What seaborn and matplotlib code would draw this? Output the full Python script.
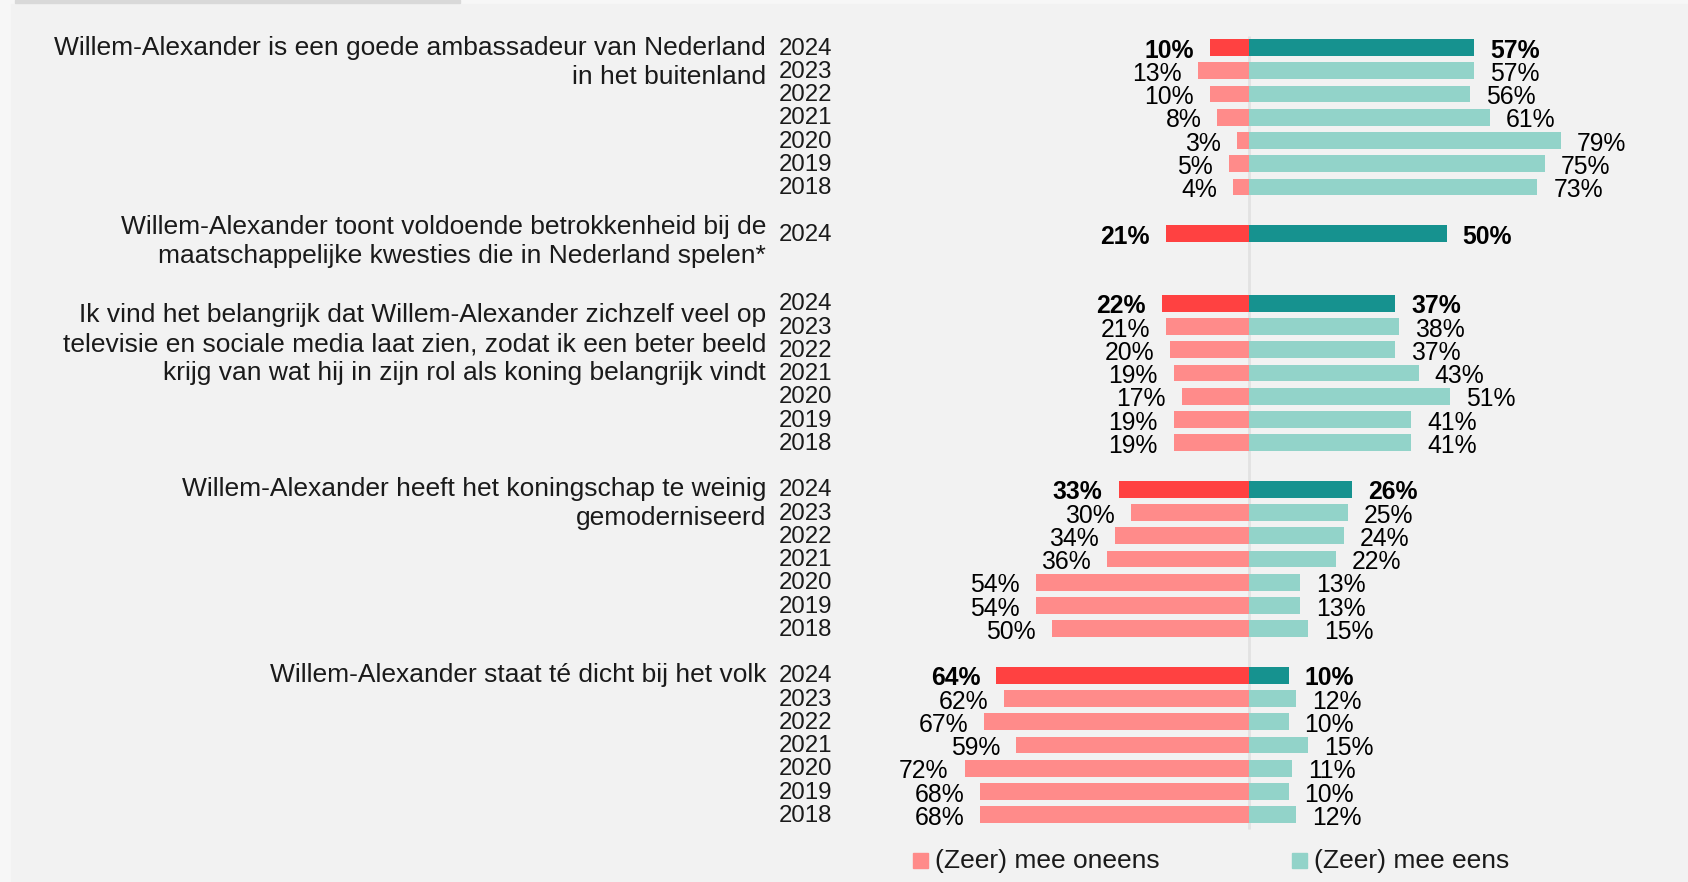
import numpy as np
import pandas as pd
import seaborn as sns
import matplotlib.pyplot as plt
from matplotlib.patches import Rectangle

# data
questions = [
    ["Willem-Alexander is een goede ambassadeur van Nederland", "in het buitenland"],
    ["Willem-Alexander toont voldoende betrokkenheid bij de", "maatschappelijke kwesties die in Nederland spelen*"],
    ["Ik vind het belangrijk dat Willem-Alexander zichzelf veel op",
     "televisie en sociale media laat zien, zodat ik een beter beeld",
     "krijg van wat hij in zijn rol als koning belangrijk vindt"],
    ["Willem-Alexander heeft het koningschap te weinig", "gemoderniseerd"],
    ["Willem-Alexander staat té dicht bij het volk"],
]
years_all = [2024, 2023, 2022, 2021, 2020, 2019, 2018]
years = [years_all, [2024], years_all, years_all, years_all]
oneens = [[10, 13, 10, 8, 3, 5, 4],
          [21],
          [22, 21, 20, 19, 17, 19, 19],
          [33, 30, 34, 36, 54, 54, 50],
          [64, 62, 67, 59, 72, 68, 68]]
eens = [[57, 57, 56, 61, 79, 75, 73],
        [50],
        [37, 38, 37, 43, 51, 41, 41],
        [26, 25, 24, 22, 13, 13, 15],
        [10, 12, 10, 15, 11, 10, 12]]
legend_labels = ["(Zeer) mee oneens", "(Zeer) mee eens"]

colors = {"neg24": "#ff4141", "neg": "#ff8b8a", "pos24": "#16928f", "pos": "#92d3c9"}
bg = "#f2f2f2"
txt = "#1a1a1a"

# layout in pixels
W, H = 1688, 882
CX, PXPCT = 1249, 3.95      # zero line, pixels per percent
Y0, RS = 47.5, 23.25        # first row centre, row spacing
gaps = [1, 2, 1, 1, 0]
q_shift = [7, 0.5, 19, 7, 7]  # baseline of first question line below its first row (px)

recs = []
r = 0
for g in range(len(questions)):
    for i, yr in enumerate(years[g]):
        recs.append(dict(group=g, year=yr, row=r, oneens=-oneens[g][i], eens=eens[g][i],
                         latest=(i == 0)))
        r += 1
    r += gaps[g]
df = pd.DataFrame(recs)
df["c_neg"] = np.where(df["latest"], "neg24", "neg")
df["c_pos"] = np.where(df["latest"], "pos24", "pos")

plt.rcParams["font.family"] = ["Liberation Sans", "DejaVu Sans"]
fig = plt.figure(figsize=(W / 100, H / 100), dpi=100, facecolor="#f7f7f7")
fig.patches.append(Rectangle((11 / W, 0), 1, 1 - 4 / H, transform=fig.transFigure,
                             color=bg, zorder=-10))
fig.patches.append(Rectangle((15 / W, 1 - 3 / H), 445 / W, 3 / H, transform=fig.transFigure,
                             color="#d9d9d9", zorder=-10))

ax = fig.add_axes([0, 0, 1, 1])
ax.set_facecolor("none")

sns.barplot(data=df, x="oneens", y="row", hue="c_neg", palette=colors, orient="h",
            native_scale=True, width=0.72, dodge=False, errorbar=None, legend=False,
            saturation=1, ax=ax)
sns.barplot(data=df, x="eens", y="row", hue="c_pos", palette=colors, orient="h",
            native_scale=True, width=0.72, dodge=False, errorbar=None, legend=False,
            saturation=1, ax=ax)

ax.set_xlim(-CX / PXPCT, (W - CX) / PXPCT)
ax.set_ylim((H - Y0) / RS, -Y0 / RS)
ax.axis("off")

ax.vlines(0, -0.5, df["row"].max() + 0.6, color="#e2e2e2", lw=2, zorder=0)

px = lambda p: (p - CX) / PXPCT
off = 16 / PXPCT
for _, d in df.iterrows():
    wt = "bold" if d["latest"] else "normal"
    ax.text(d["oneens"] - off, d["row"] + 10 / RS, f"{-d['oneens']}%", ha="right",
            va="baseline", fontsize=17.8, fontweight=wt, color="black")
    ax.text(d["eens"] + off, d["row"] + 10 / RS, f"{d['eens']}%", ha="left",
            va="baseline", fontsize=17.8, fontweight=wt, color="black")
    ax.text(px(779), d["row"] + 7 / RS, str(d["year"]), ha="left", va="baseline",
            fontsize=17.3, color=txt)

for g, lines in enumerate(questions):
    first = df.loc[df["group"] == g, "row"].iloc[0]
    for k, line in enumerate(lines):
        ax.text(px(766), first + (q_shift[g] + k * 29) / RS, line, ha="right",
                va="baseline", fontsize=19, color=txt)

# legend
ly = (860 - Y0) / RS
sq = 15 / PXPCT
for lab, c, x0 in zip(legend_labels, [colors["neg"], colors["pos"]], [913, 1292]):
    ax.add_patch(Rectangle((px(x0), ly - 7.5 / RS), sq, 15 / RS, color=c))
    ax.text(px(x0 + 22), ly + 8 / RS, lab, ha="left", va="baseline", fontsize=19, color=txt)

fig.savefig("out.png", dpi=100, facecolor=fig.get_facecolor())
